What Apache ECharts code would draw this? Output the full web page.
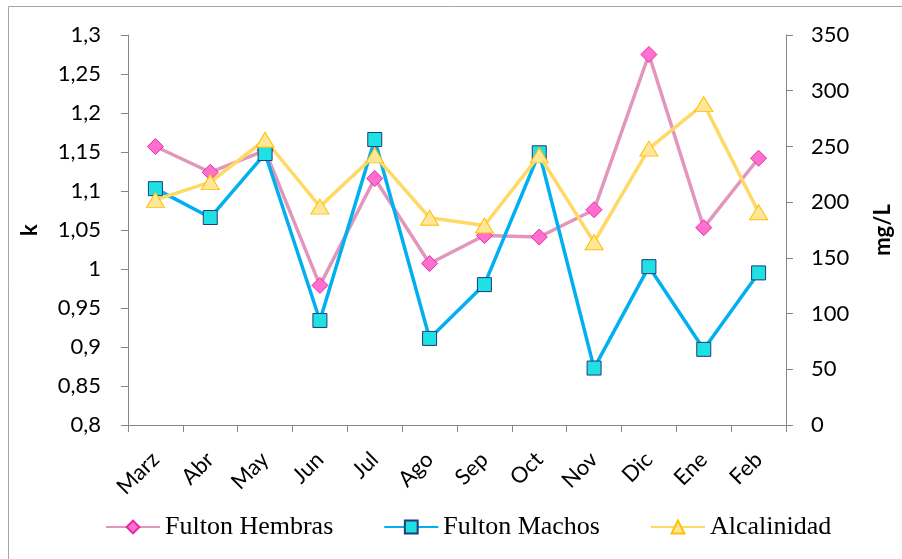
<!DOCTYPE html>
<html><head><meta charset="utf-8">
<script src="https://cdn.jsdelivr.net/npm/echarts@6/dist/echarts.min.js"></script>
<style>html,body{margin:0;padding:0;background:#fff}#c{width:902px;height:559px}</style>
</head><body><div id="c"></div>
<script>
var categories = ['Marz','Abr','May','Jun','Jul','Ago','Sep','Oct','Nov','Dic','Ene','Feb'];
var fultonHembras = [1.157,1.124,1.152,0.979,1.116,1.007,1.043,1.041,1.076,1.275,1.053,1.142];
var fultonMachos = [1.103,1.066,1.148,0.934,1.166,0.911,0.980,1.149,0.873,1.003,0.897,0.995];
var alcalinidad = [202,218,256,196,242,186,179,242,164,248,288,191];
var leftTicks = {min:0.8, max:1.3, interval:0.05};
var rightTicks = {min:0, max:350, interval:50};

var chart = echarts.init(document.getElementById('c'));
var axisFont = 'Lato, "Open Sans", sans-serif';
function fmt(v){ return String(+(+v).toFixed(2)).replace('.', ','); }
var axisLine = {show:true, lineStyle:{color:'#868686', width:1}};
chart.setOption({
  animation:false,
  graphic:[{type:'rect', shape:{x:8.5,y:6.5,width:1000,height:1000}, style:{fill:'none', stroke:'#a6a6a6', lineWidth:1}}],
  grid:{left:128, right:110, top:35, bottom:134},
  legend:{
    left:100, top:509, itemWidth:54, itemHeight:16, itemGap:50,
    textStyle:{fontFamily:'"Liberation Serif", serif', fontSize:26, color:'#000', padding:[0,0,0,0]},
    data:['Fulton Hembras','Fulton Machos','Alcalinidad']
  },
  xAxis:{
    type:'category', data:categories, boundaryGap:true,
    axisLine:axisLine, axisTick:{show:true, length:7, lineStyle:{color:'#868686'}},
    axisLabel:{rotate:45, fontFamily:axisFont, fontSize:22, color:'#000', margin:31}
  },
  yAxis:[
    {type:'value', min:leftTicks.min, max:leftTicks.max, interval:leftTicks.interval, position:'left',
     name:'k', nameLocation:'middle', nameGap:87, nameRotate:90,
     nameTextStyle:{fontFamily:axisFont, fontWeight:'bold', fontSize:22, color:'#000'},
     axisLine:axisLine, axisTick:{show:true, length:7, lineStyle:{color:'#868686'}},
     splitLine:{show:false},
     axisLabel:{formatter:fmt, fontFamily:axisFont, fontSize:22, color:'#000', margin:27}},
    {type:'value', min:rightTicks.min, max:rightTicks.max, interval:rightTicks.interval, position:'right',
     name:'mg/L', nameLocation:'middle', nameGap:86, nameRotate:90,
     nameTextStyle:{fontFamily:axisFont, fontWeight:'bold', fontSize:22, color:'#000'},
     axisLine:axisLine, axisTick:{show:true, length:7, lineStyle:{color:'#868686'}},
     splitLine:{show:false},
     axisLabel:{fontFamily:axisFont, fontSize:22, color:'#000', margin:25}}
  ],
  series:[
    {name:'Fulton Hembras', type:'line', yAxisIndex:0, data:fultonHembras,
     symbol:'diamond', symbolSize:16,
     lineStyle:{color:'#E396BC', width:3.5},
     itemStyle:{color:'#FF6FCF', borderColor:'#E62AA6', borderWidth:1}},
    {name:'Fulton Machos', type:'line', yAxisIndex:0, data:fultonMachos,
     symbol:'rect', symbolSize:14,
     lineStyle:{color:'#00B0F0', width:3.5},
     itemStyle:{color:'#1FE0E3', borderColor:'#1F3C7A', borderWidth:1}},
    {name:'Alcalinidad', type:'line', yAxisIndex:1, data:alcalinidad,
     symbol:'triangle', symbolSize:[18,15],
     lineStyle:{color:'#FFD966', width:3.5},
     itemStyle:{color:'#FFE699', borderColor:'#FFC000', borderWidth:1}}
  ]
});
</script></body></html>
